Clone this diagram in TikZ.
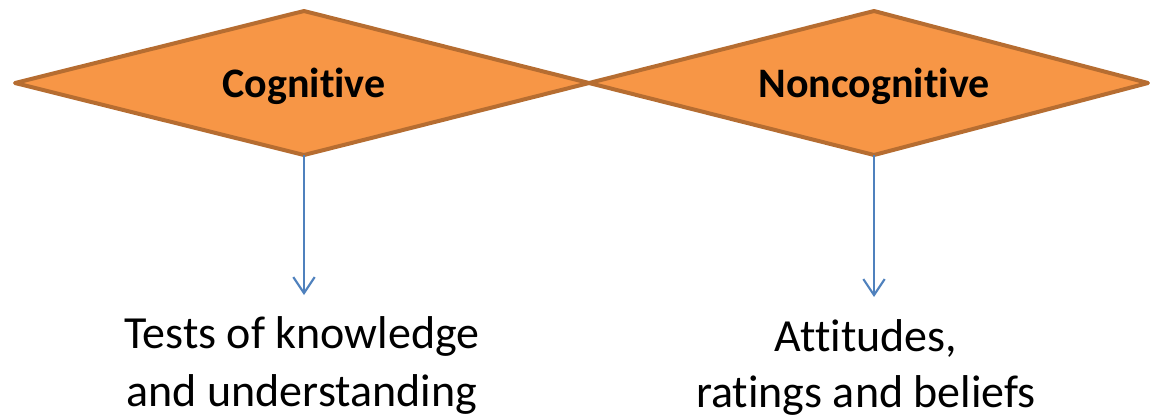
\documentclass[tikz,border=0pt]{standalone}
\usepackage{fontspec}
\setmainfont[Ligatures=NoCommon]{Carlito}
\usetikzlibrary{arrows.meta}
\definecolor{dfill}{HTML}{F79646}
\definecolor{dline}{HTML}{B66D31}
\definecolor{arr}{HTML}{4F81BD}
\tikzset{
  diam/.style={draw=dline, fill=dfill, line width=3pt, line join=round},
  dlabel/.style={font=\fontsize{31.5}{38}\selectfont\bfseries, text=black},
  conn/.style={draw=arr, line width=1.6pt, -{Straight Barb[length=12pt,width=16pt,line width=1.6pt]}},
  blabel/.style={font=\fontsize{34.5}{43.5}\selectfont, align=center, anchor=base, text=black, inner sep=0pt}
}
\begin{document}
\begin{tikzpicture}[x=0.75pt,y=-0.75pt]
\useasboundingbox (0,0) rectangle (1150,419);
\coordinate (l1) at (15,83);
\coordinate (l2) at (304,11);
\coordinate (m) at (589,83);
\coordinate (l4) at (304,155);
\coordinate (r2) at (874,11);
\coordinate (r3) at (1148,83);
\coordinate (r4) at (874,155);
\path[diam] (l1) -- (l2) -- (m) -- (l4) -- cycle;
\path[diam] (m) -- (r2) -- (r3) -- (r4) -- cycle;
\node[dlabel] (cog) at (304,86) {Cognitive};
\node[dlabel] (noncog) at (874,86) {Noncognitive};
\coordinate (a1) at (304,295);
\coordinate (a2) at (874,297);
\draw[conn] (l4) -- (a1);
\draw[conn] (r4) -- (a2);
\node[blabel] (t1) at (302,406) {Tests of knowledge\\and understanding};
\node[blabel, font=\fontsize{34.5}{41.5}\selectfont] (t2) at (866,407) {Attitudes,\\ratings and beliefs};
\end{tikzpicture}
\end{document}
